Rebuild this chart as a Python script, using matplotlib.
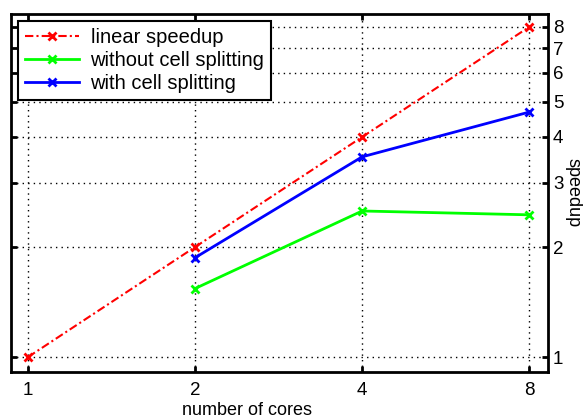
import matplotlib.pyplot as plt
from matplotlib.ticker import FixedLocator, NullLocator, FixedFormatter

plt.rcParams["font.family"] = ["Liberation Sans", "DejaVu Sans"]

cores = [1, 2, 4, 8]
linear = [1, 2, 4, 8]
cores_split = [2, 4, 8]
without_split = [1.54, 2.51, 2.45]
with_split = [1.87, 3.53, 4.68]

x_ticks = [1, 2, 4, 8]
y_ticks = [1, 2, 3, 4, 5, 6, 7, 8]

fig = plt.figure(figsize=(5.87, 4.19), dpi=100)
ax = fig.add_axes([0.0187, 0.112, 0.9149, 0.8546])

ax.plot(cores, linear, color="red", linestyle=(0, (4, 1.5, 1, 1.5)),
        linewidth=1.5, marker="x", markersize=6, markeredgewidth=2,
        label="linear speedup")
ax.plot(cores_split, without_split, color="#00ff00", linewidth=2,
        marker="x", markersize=6, markeredgewidth=2,
        label="without cell splitting")
ax.plot(cores_split, with_split, color="blue", linewidth=2,
        marker="x", markersize=6, markeredgewidth=2,
        label="with cell splitting")

ax.set_xscale("log")
ax.set_yscale("log")
ax.set_xlim(0.932, 8.65)
ax.set_ylim(0.91, 8.68)

ax.xaxis.set_major_locator(FixedLocator(x_ticks))
ax.xaxis.set_major_formatter(FixedFormatter([str(v) for v in x_ticks]))
ax.xaxis.set_minor_locator(NullLocator())
ax.yaxis.set_major_locator(FixedLocator(y_ticks))
ax.yaxis.set_major_formatter(FixedFormatter([str(v) for v in y_ticks]))
ax.yaxis.set_minor_locator(NullLocator())

ax.yaxis.tick_right()
ax.yaxis.set_label_position("right")
ax.tick_params(direction="in", length=4, width=2, labelsize=13.5,
               top=True, bottom=True, left=True, right=True,
               labelleft=False, labelright=True)
ax.tick_params(axis="x", pad=7)

ax.grid(True, color="black", linestyle=(0, (1, 3)), linewidth=1)

for spine in ax.spines.values():
    spine.set_linewidth(2)

ax.set_xlabel("number of cores", fontsize=13)
ax.xaxis.set_label_coords(0.44, -0.083, transform=ax.transAxes)
ax.xaxis.label.set_va("top")
ax.set_ylabel("speedup", fontsize=13, rotation=270, labelpad=13)

leg = ax.legend(loc="upper left", fontsize=14.5, fancybox=False,
                framealpha=1, edgecolor="black", borderpad=0.35,
                labelspacing=0.2, handlelength=2.7, handletextpad=0.55,
                borderaxespad=0.35)
leg.get_frame().set_linewidth(1.5)

fig.savefig("out.png", dpi=100)
